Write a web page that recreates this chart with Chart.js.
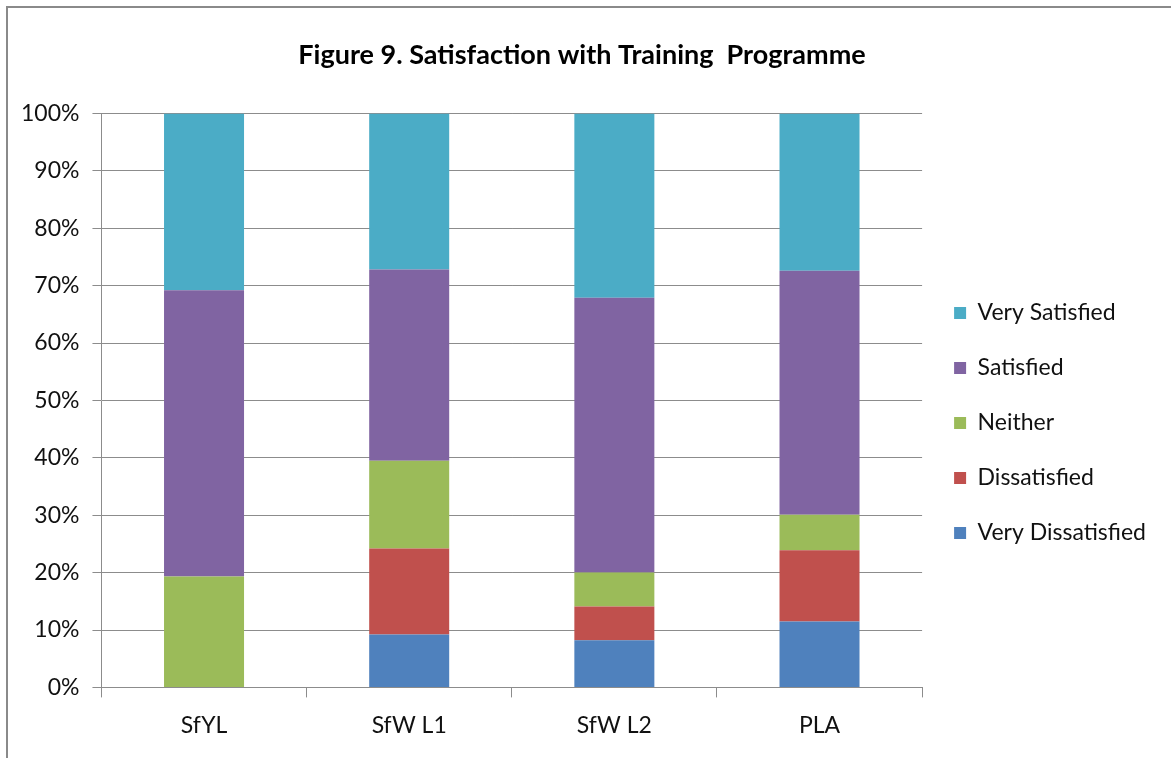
<!DOCTYPE html>
<html>
<head>
<meta charset="utf-8">
<script src="https://cdn.jsdelivr.net/npm/chart.js@4"></script>
<style>
  html, body { margin: 0; padding: 0; background: #fff; }
  #wrap { position: relative; width: 1171px; height: 758px; overflow: hidden; }
  #frame { position: absolute; left: 6px; top: 6px; width: 1200px; height: 800px;
           border-left: 2px solid #8a8a8a; border-top: 2px solid #8a8a8a; }
  canvas { position: absolute; left: 0; top: 0; }
</style>
</head>
<body>
<div id="wrap">
  <div id="frame"></div>
  <canvas id="myChart" width="1171" height="758"></canvas>
</div>
<script>
const categories = ["SfYL", "SfW L1", "SfW L2", "PLA"];
const veryDissatisfied = [0, 9.2, 8.2, 11.5];
const dissatisfied = [0, 15.0, 5.9, 12.4];
const neither = [19.3, 15.3, 5.9, 6.2];
const satisfied = [49.9, 33.3, 47.9, 42.5];
const verySatisfied = [30.8, 27.2, 32.1, 27.4];
const yTicks = [0, 10, 20, 30, 40, 50, 60, 70, 80, 90, 100];

const font = "Lato";
const gridCol = "#8c8c8c";

const data = {
    labels: categories,
    datasets: [
        { label: "Very Dissatisfied", data: veryDissatisfied, backgroundColor: "#4f81bd" },
        { label: "Dissatisfied", data: dissatisfied, backgroundColor: "#c0504d" },
        { label: "Neither", data: neither, backgroundColor: "#9bbb59" },
        { label: "Satisfied", data: satisfied, backgroundColor: "#8064a2" },
        { label: "Very Satisfied", data: verySatisfied, backgroundColor: "#4bacc6" }
    ]
};
data.datasets.forEach(d => { d.barPercentage = 0.39; d.categoryPercentage = 1.0; });

// nudge the legend down so it sits like in the original
const legendShift = {
    id: "legendShift",
    afterLayout(chart) {
        const lg = chart.legend;
        lg.top += 27;
        lg.bottom += 27;
    }
};

const config = {
    type: "bar",
    data: data,
    plugins: [legendShift],
    options: {
        responsive: false,
        animation: false,
        layout: {
            padding: { left: 8, right: 15, top: 39, bottom: 5 }
        },
        plugins: {
            title: {
                display: true,
                text: "Figure 9. Satisfaction with Training  Programme",
                color: "#000",
                font: { family: font, size: 27, weight: "bold" },
                padding: { top: 0, bottom: 42 }
            },
            legend: {
                position: "right",
                reverse: true,
                labels: {
                    color: "#111",
                    font: { family: font, size: 23 },
                    boxWidth: 12,
                    boxHeight: 12,
                    padding: 32
                }
            },
            tooltip: { enabled: false }
        },
        scales: {
            x: {
                stacked: true,
                grid: { drawOnChartArea: false, drawTicks: true, tickLength: 10, color: gridCol },
                border: { color: gridCol },
                ticks: { color: "#111", font: { family: font, size: 23 }, padding: 14 }
            },
            y: {
                stacked: true,
                min: 0,
                max: 100,
                afterBuildTicks: axis => { axis.ticks = yTicks.map(v => ({ value: v })); },
                grid: { color: gridCol, tickLength: 9 },
                border: { color: gridCol },
                ticks: {
                    color: "#111",
                    font: { family: font, size: 23 },
                    padding: 13,
                    callback: v => v + "%"
                }
            }
        }
    }
};

const myChart = new Chart(document.getElementById("myChart"), config);
</script>
</body>
</html>
